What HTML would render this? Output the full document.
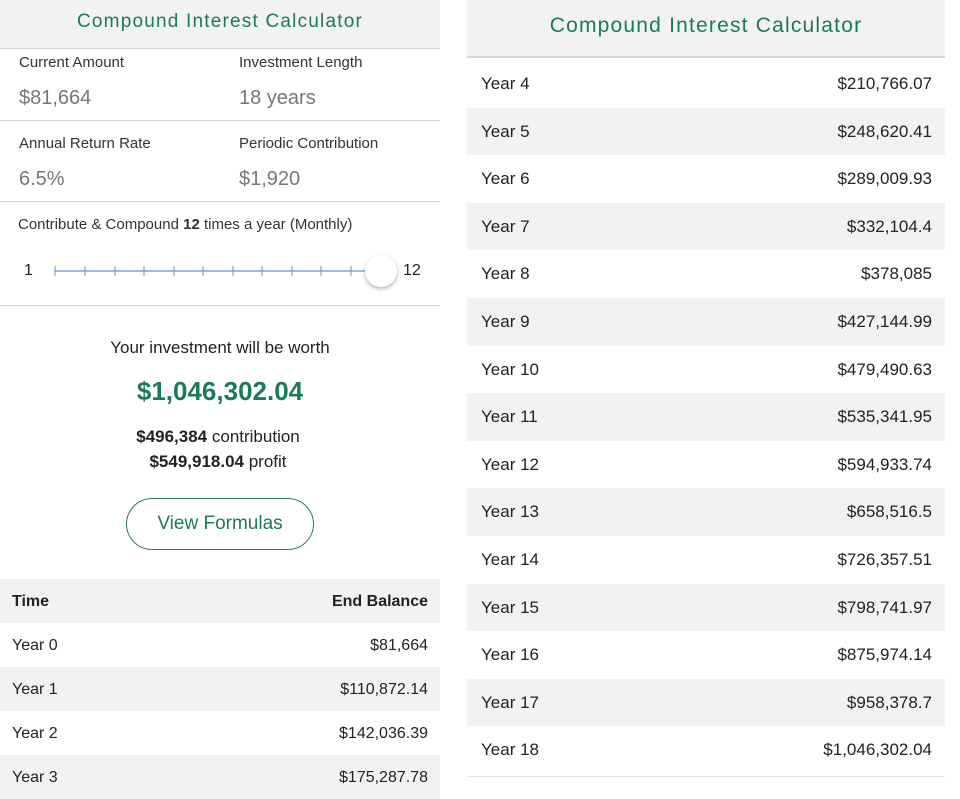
<!DOCTYPE html>
<html><head><style>
body{margin:0;width:960px;height:789px;background:#fff;position:relative;overflow:hidden;font-family:"Liberation Sans",sans-serif;color:#222}
.a{position:absolute;white-space:nowrap}
.g{background:#f2f2f2}
.hl{position:absolute;height:1px;background:#d2d2d2}
.lbl{font-size:15px;color:#333}
.val{font-size:20px;color:#777}
.t{font-size:16px;color:#222}
.green{color:#1b7a58}
</style></head><body>
<div class="a g" style="left:0;top:0;width:440px;height:48px"></div>
<div class="a green" style="left:0;width:440px;top:11px;text-align:center;font-size:19px;letter-spacing:1.2px">Compound Interest Calculator</div>
<div class="hl" style="left:0;top:48px;width:440px"></div>
<div class="a lbl" style="left:19px;top:54px">Current Amount</div>
<div class="a lbl" style="left:239px;top:54px">Investment Length</div>
<div class="a val" style="left:19px;top:87px">$81,664</div>
<div class="a val" style="left:239px;top:87px">18 years</div>
<div class="hl" style="left:0;top:120px;width:440px"></div>
<div class="a lbl" style="left:19px;top:135px">Annual Return Rate</div>
<div class="a lbl" style="left:239px;top:135px">Periodic Contribution</div>
<div class="a val" style="left:19px;top:168px">6.5%</div>
<div class="a val" style="left:239px;top:168px">$1,920</div>
<div class="hl" style="left:0;top:201px;width:440px"></div>
<div class="a lbl" style="left:18px;top:216px">Contribute &amp; Compound <b>12</b> times a year (Monthly)</div>
<div class="a" style="left:24px;top:262px;font-size:16px">1</div>
<div class="a" style="left:403px;top:262px;font-size:16px">12</div>
<svg class="a" style="left:50px;top:260px" width="350" height="30">
<line x1="5" y1="11" x2="330" y2="11" stroke="#6a8fd6" stroke-width="1.2"/>
<g stroke="#6a8fd6" stroke-width="1">
<line x1="5" y1="6" x2="5" y2="16"/><line x1="35" y1="6" x2="35" y2="16"/><line x1="65" y1="6" x2="65" y2="16"/><line x1="94" y1="6" x2="94" y2="16"/><line x1="124" y1="6" x2="124" y2="16"/><line x1="153" y1="6" x2="153" y2="16"/><line x1="183" y1="6" x2="183" y2="16"/><line x1="212" y1="6" x2="212" y2="16"/><line x1="242" y1="6" x2="242" y2="16"/><line x1="271" y1="6" x2="271" y2="16"/><line x1="301" y1="6" x2="301" y2="16"/></g>
</svg>
<div class="a" style="left:365px;top:255px;width:32px;height:32px;border-radius:50%;background:#fff;box-shadow:0 2px 4px rgba(0,0,0,.3)"></div>
<div class="hl" style="left:0;top:305px;width:440px"></div>
<div class="a" style="left:0;width:440px;text-align:center;top:338px;font-size:17px">Your investment will be worth</div>
<div class="a green" style="left:0;width:440px;text-align:center;top:376px;font-size:26px;font-weight:bold">$1,046,302.04</div>
<div class="a" style="left:0;width:436px;text-align:center;top:427px;font-size:17px"><b>$496,384</b> contribution</div>
<div class="a" style="left:0;width:436px;text-align:center;top:452px;font-size:17px"><b>$549,918.04</b> profit</div>
<div class="a green" style="left:126px;top:498px;width:186px;height:50px;border:1.5px solid #2a7a5e;border-radius:26px;text-align:center;line-height:50px;font-size:19px">View Formulas</div>
<div class="a g" style="left:0;top:579px;width:440px;height:44px"></div>
<div class="a t" style="left:12px;top:593px;font-weight:bold">Time</div>
<div class="a t" style="right:532px;top:593px;font-weight:bold">End Balance</div>
<div class="a t" style="left:12px;top:637px">Year 0</div><div class="a t" style="right:532px;top:637px">$81,664</div>
<div class="a g" style="left:0;top:667px;width:440px;height:44px"></div>
<div class="a t" style="left:12px;top:681px">Year 1</div><div class="a t" style="right:532px;top:681px">$110,872.14</div>
<div class="a t" style="left:12px;top:725px">Year 2</div><div class="a t" style="right:532px;top:725px">$142,036.39</div>
<div class="a g" style="left:0;top:755px;width:440px;height:44px"></div>
<div class="a t" style="left:12px;top:769px">Year 3</div><div class="a t" style="right:532px;top:769px">$175,287.78</div>
<div class="a g" style="left:467px;top:0;width:478px;height:56px"></div>
<div class="a green" style="left:467px;width:478px;top:14px;text-align:center;font-size:21px;letter-spacing:1.2px">Compound Interest Calculator</div>
<div class="hl" style="left:467px;top:56px;width:478px;height:2px;background:#d6d6d6"></div>
<div id="r"></div>
<script>
var v=["$210,766.07","$248,620.41","$289,009.93","$332,104.4","$378,085","$427,144.99","$479,490.63","$535,341.95","$594,933.74","$658,516.5","$726,357.51","$798,741.97","$875,974.14","$958,378.7","$1,046,302.04"],h="";
for(var i=0;i<15;i++){var y=60+i*47.6;
if(i%2)h+='<div class="a g" style="left:467px;top:'+y+'px;width:478px;height:47.6px"></div>';
h+='<div class="a" style="left:481px;top:'+(y+14)+'px;font-size:17px">Year '+(i+4)+'</div><div class="a" style="right:28px;top:'+(y+14)+'px;font-size:17px">'+v[i]+'</div>';}
h+='<div class="hl" style="left:467px;top:776px;width:478px;background:#e4e4e4"></div>';
document.getElementById("r").innerHTML=h;
</script>
</body></html>
